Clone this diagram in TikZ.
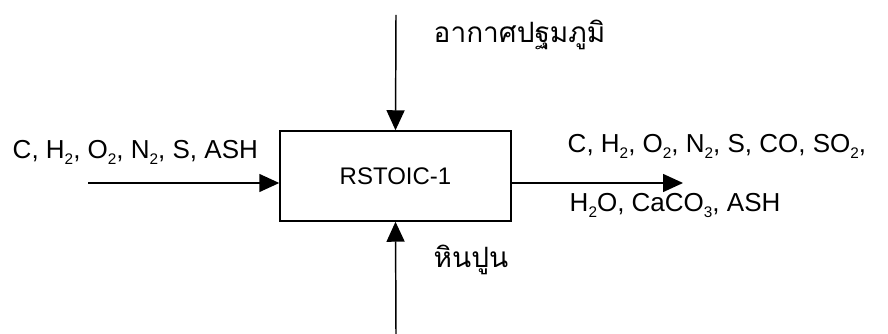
\documentclass[tikz,border=0pt]{standalone}
\usepackage{fontspec}
\setmainfont{Liberation Sans}
\newfontfamily\thaifont[Script=Thai]{Loma}
\usetikzlibrary{arrows.meta}
\newcommand{\subs}[1]{\raisebox{-4.5pt}{\fontsize{11.5}{11.5}\selectfont #1}}
\begin{document}
\begin{tikzpicture}[x=0.75pt,y=-0.75pt,line width=1.1pt,>={Triangle[length=15pt,width=13.5pt]},every node/.style={font=\fontsize{19.5}{23}\selectfont,inner sep=0pt}]
\useasboundingbox (0,0) rectangle (888,334);
\coordinate (Feed) at (88,183);
\coordinate (Prod) at (683,183);
\coordinate (Air) at (396,15);
\coordinate (Lime) at (396,334);
\node[draw,minimum width=173.25pt,minimum height=67.5pt,font=\fontsize{18}{21}\selectfont] (R) at (395.5,176) {RSTOIC-1};
\draw[->] (Feed) -- (Feed -| R.west);
\draw[->] (R.east |- Prod) -- (Prod);
\draw[->] (Air) -- (R.north);
\draw[->] (Lime) -- (R.south);
\node[anchor=base west] (f) at (12,159) {C, H\subs{2}, O\subs{2}, N\subs{2}, S, ASH};
\node[anchor=base west,font=\fontsize{21}{24}\thaifont] (a) at (433,43) {อากาศปฐมภูมิ};
\node[anchor=base west,font=\fontsize{21}{24}\thaifont] (l) at (433,268) {หินปูน};
\node[anchor=base west] (p1) at (567,153) {C, H\subs{2}, O\subs{2}, N\subs{2}, S, CO, SO\subs{2},};
\node[anchor=base west] (p2) at (569,212) {H\subs{2}O, CaCO\subs{3}, ASH};
\end{tikzpicture}
\end{document}
